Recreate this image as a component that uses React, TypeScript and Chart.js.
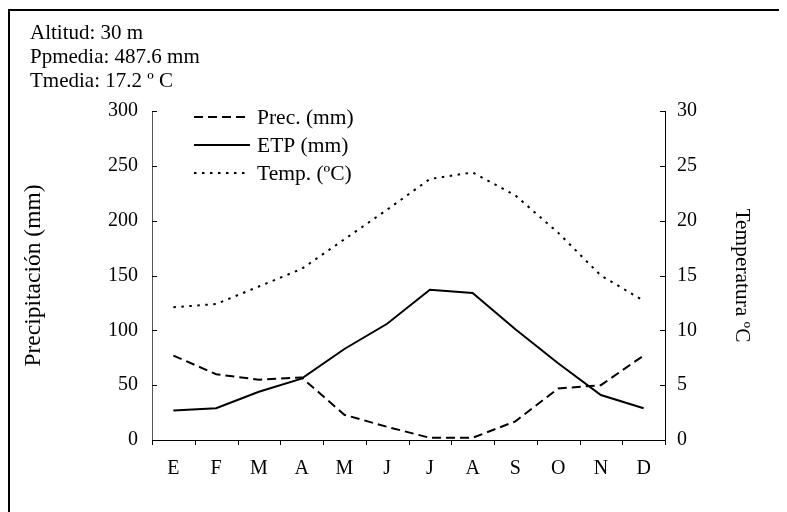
import React, { useEffect, useRef } from "react";
import { Chart, registerables } from "chart.js";

Chart.register(...registerables);

const months = ["E", "F", "M", "A", "M", "J", "J", "A", "S", "O", "N", "D"];
const precipitation = [77, 60, 55, 57, 23, 12, 2, 2, 17, 47, 50, 77];
const etp = [27, 29, 44, 56, 83, 106, 137, 134, 101, 70, 41, 29];
const temperature = [12.1, 12.4, 14.0, 15.6, 18.3, 21.0, 23.8, 24.4, 22.3, 18.9, 15.0, 12.7];
const seriesLabels = ["Prec. (mm)", "ETP (mm)", "Temp. (ºC)"];
const infoLines = ["Altitud: 30 m", "Ppmedia: 487.6 mm", "Tmedia: 17.2 º C"];
const precAxisTitle = "Precipitación (mm)";
const tempAxisTitle = "Temperatura ºC";
const precMax = 300;
const precStep = 50;
const tempMax = 30;
const tempStep = 5;

const FONT = "'Liberation Serif', 'Times New Roman', serif";
const FS = 20;
const FS_TEXT = 21;

const decorPlugin = {
  id: "decor",
  afterDraw(chart: any) {
    const { ctx, chartArea: a, scales } = chart;
    const sx = scales.x;
    const sy = scales.y;
    const sy1 = scales.y1;
    ctx.save();
    ctx.strokeStyle = "#000";
    ctx.lineWidth = 1;
    const seg = (x1: number, y1: number, x2: number, y2: number) => {
      ctx.beginPath();
      ctx.moveTo(x1, y1);
      ctx.lineTo(x2, y2);
      ctx.stroke();
    };
    sy.ticks.forEach((t: any) => {
      const py = Math.round(sy.getPixelForValue(t.value)) + 0.5;
      seg(a.left, py, a.left + 5, py);
    });
    sy1.ticks.forEach((t: any) => {
      const py = Math.round(sy1.getPixelForValue(t.value)) + 0.5;
      seg(a.right - 5, py, a.right, py);
    });
    const n = months.length;
    for (let i = 0; i <= n; i++) {
      let px: number;
      if (i === 0) px = a.left;
      else if (i === n) px = a.right;
      else px = (sx.getPixelForValue(i - 1) + sx.getPixelForValue(i)) / 2;
      px = Math.round(px) + 0.5;
      seg(px, a.bottom, px, a.bottom + 5);
    }

    ctx.font = `${FS_TEXT + 0.5}px ${FONT}`;
    ctx.fillStyle = "#000";
    ctx.textBaseline = "middle";
    ctx.textAlign = "left";
    chart.data.datasets.forEach((ds: any, i: number) => {
      const ly = a.top + 6 + i * 28;
      ctx.save();
      ctx.lineWidth = ds.borderWidth;
      ctx.setLineDash(ds.borderDash || []);
      ctx.strokeStyle = ds.borderColor;
      seg(a.left + 42, ly, a.left + 98, ly);
      ctx.restore();
      ctx.fillText(ds.label, a.left + 105, ly + 1);
    });

    ctx.font = `${FS_TEXT}px ${FONT}`;
    ctx.textBaseline = "alphabetic";
    infoLines.forEach((line, i) => {
      ctx.fillText(line, 30, 39 + i * 24);
    });
    ctx.restore();
  },
};

export default function App() {
  const ref = useRef<HTMLCanvasElement | null>(null);
  useEffect(() => {
    const el = ref.current;
    if (!el) return;
    let chart: Chart | null = null;
    try {
      chart = new Chart(el, {
        type: "line",
        data: {
          labels: months,
          datasets: [
            {
              label: seriesLabels[0],
              data: precipitation,
              yAxisID: "y",
              borderColor: "#000",
              borderWidth: 2,
              borderDash: [9, 5],
              pointRadius: 0,
              tension: 0,
              fill: false,
            },
            {
              label: seriesLabels[1],
              data: etp,
              yAxisID: "y",
              borderColor: "#000",
              borderWidth: 2,
              pointRadius: 0,
              tension: 0,
              fill: false,
            },
            {
              label: seriesLabels[2],
              data: temperature,
              yAxisID: "y1",
              borderColor: "#000",
              borderWidth: 2,
              borderDash: [2.5, 5.5],
              pointRadius: 0,
              tension: 0,
              fill: false,
            },
          ],
        },
        options: {
          animation: false,
          responsive: false,
          devicePixelRatio: 1,
          layout: { padding: { top: 111, left: 0, right: 0, bottom: 0 } },
          plugins: { legend: { display: false }, title: { display: false }, tooltip: { enabled: false } },
          scales: {
            x: {
              type: "category",
              offset: true,
              grid: { display: false, drawTicks: false },
              border: { display: true, color: "#000", width: 1 },
              ticks: { color: "#000", font: { family: FONT, size: FS }, padding: 17, maxRotation: 0, autoSkip: false },
              afterFit: (s: any) => {
                s.height = 72;
              },
            },
            y: {
              type: "linear",
              position: "left",
              min: 0,
              max: precMax,
              grid: { display: false, drawTicks: false },
              border: { display: true, color: "#555", width: 1 },
              ticks: { stepSize: precStep, color: "#000", font: { family: FONT, size: FS }, padding: 14 },
              title: {
                display: true,
                text: precAxisTitle,
                color: "#000",
                font: { family: FONT, size: 23.5 },
                padding: { top: 20, bottom: 0 },
              },
              afterFit: (s: any) => {
                s.width = 152;
              },
            },
            y1: {
              type: "linear",
              position: "right",
              min: 0,
              max: tempMax,
              grid: { display: false, drawTicks: false },
              border: { display: true, color: "#000", width: 1 },
              ticks: { stepSize: tempStep, color: "#000", font: { family: FONT, size: FS }, padding: 12 },
              title: {
                display: true,
                text: tempAxisTitle,
                color: "#000",
                font: { family: FONT, size: 21.4 },
                padding: { top: 33, bottom: 0 },
              },
              afterFit: (s: any) => {
                s.width = 122;
              },
            },
          },
        },
        plugins: [decorPlugin],
      } as any);
    } catch (e) {
      console.error(e);
    }
    return () => {
      if (chart) chart.destroy();
    };
  }, []);

  return (
    <div style={{ position: "relative", width: 779, height: 504 }}>
      <div
        style={{
          position: "absolute",
          left: 0,
          top: 1,
          width: 779,
          height: 503,
          borderTop: "2px solid #000",
          borderLeft: "2px solid #000",
          boxSizing: "border-box",
        }}
      />
      <canvas
        ref={ref}
        width={787}
        height={512}
        style={{ position: "absolute", left: -8, top: -8, width: 787, height: 512, display: "block" }}
      />
    </div>
  );
}
